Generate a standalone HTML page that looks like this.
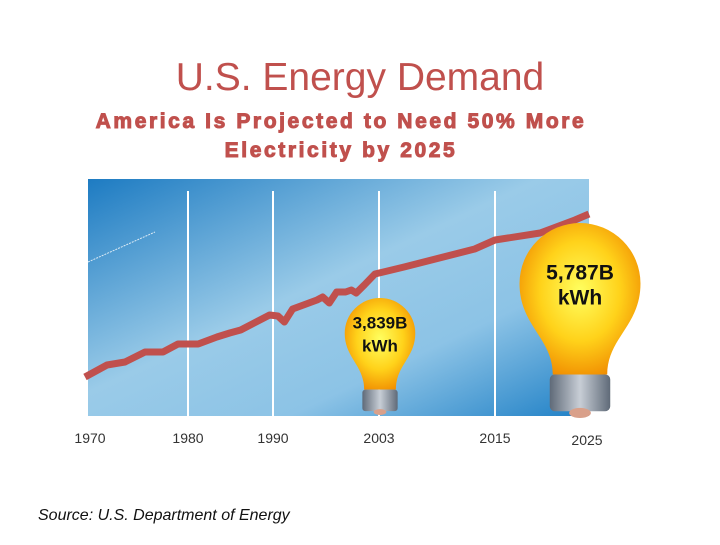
<!DOCTYPE html>
<html><head><meta charset="utf-8"><style>
body{margin:0;width:720px;height:540px;background:#fff;overflow:hidden;font-family:"Liberation Sans",sans-serif}
</style></head><body>
<svg width="720" height="540" viewBox="0 0 720 540" xmlns="http://www.w3.org/2000/svg">
<defs>
<linearGradient id="bg" x1="0" y1="0" x2="1" y2="1">
<stop offset="0" stop-color="#1d7bc2"/><stop offset="0.45" stop-color="#9acbe8"/><stop offset="0.7" stop-color="#8cc3e6"/><stop offset="1" stop-color="#1f80c6"/></linearGradient>
<radialGradient id="glass" cx="0.5" cy="0.45" r="0.6"><stop offset="0" stop-color="#ffff60"/><stop offset="0.55" stop-color="#ffd21a"/><stop offset="1" stop-color="#f08a00"/></radialGradient>
<linearGradient id="base" x1="0" x2="1"><stop offset="0" stop-color="#5f6a78"/><stop offset="0.5" stop-color="#c8ced6"/><stop offset="1" stop-color="#5f6a78"/></linearGradient>
</defs>
<text x="360" y="90" text-anchor="middle" font-size="39" fill="#c0504d" font-family="'Liberation Sans',sans-serif">U.S. Energy Demand</text>
<g font-size="21" font-weight="bold" fill="#c0504d" stroke="#c0504d" stroke-width="1" letter-spacing="2.6" text-anchor="middle">
<text x="341" y="128">America Is Projected to Need 50% More</text>
<text x="341" y="157">Electricity by 2025</text>
</g>
<rect x="88" y="179" width="501" height="237" fill="url(#bg)"/>
<line x1="88" y1="262" x2="155" y2="232" stroke="#fff" stroke-width="1" stroke-dasharray="2,1" opacity="0.8"/>
<g id="grid"></g>
<g id="xlabels" font-size="14" fill="#333" text-anchor="middle"></g>
<polyline id="series" fill="none" stroke="#c0504d" stroke-width="7" stroke-linejoin="round"/>
<g id="bulbs"></g>
<text x="38" y="520" font-size="16" font-style="italic" fill="#111">Source:  U.S. Department of Energy</text>
</svg>
<script>
const tickYears=[1970,1980,1990,2003,2015,2025];
const tickLabels=["1970","1980","1990","2003","2015","2025"];
const years=[1969.7,1971.9,1973.7,1975.7,1977.5,1979,1981.2,1983.4,1984.9,1986.2,1989.6,1990.6,1991.4,1992.4,1995.4,1996.1,1996.9,1997.8,1998.9,1999.6,2000.2,2001.2,2002.5,2005.6,2012.9,2015,2019.8,2023.5,2025];
const demand=[975,1330,1418,1713,1713,1950,1950,2156,2274,2363,2806,2776,2599,2983,3248,3337,3160,3484,3484,3543,3455,3691,4016,4222,4754,5019,5226,5610,5787];
const bulbYears=[2003,2025];
const bulbLabels=["3,839B","5,787B"];
const tickPx=[88,188,273,379,495,589];
function xs(y){for(let i=0;i<tickYears.length-1;i++){if(y<=tickYears[i+1]||i==tickYears.length-2){return tickPx[i]+(y-tickYears[i])*(tickPx[i+1]-tickPx[i])/(tickYears[i+1]-tickYears[i]);}}}
function ys(v){return 214+(5787-v)*66/1948;}
const NS="http://www.w3.org/2000/svg";
const grid=document.getElementById('grid'),xl=document.getElementById('xlabels');
tickYears.forEach((t,i)=>{
 const x=xs(t);
 if(i>0&&i<tickYears.length-1){const l=document.createElementNS(NS,'line');
 l.setAttribute('x1',x);l.setAttribute('x2',x);l.setAttribute('y1',191);l.setAttribute('y2',416);
 l.setAttribute('stroke','#fff');l.setAttribute('stroke-width','2');
 
 
 grid.appendChild(l);}
 const tx=document.createElementNS(NS,'text');
 tx.setAttribute('x',x+(i==0?2:i==5?-2:0));tx.setAttribute('y',i==5?445:443);tx.textContent=tickLabels[i];
 
 
 xl.appendChild(tx);
});
document.getElementById('series').setAttribute('points',years.map((y,i)=>xs(y).toFixed(1)+','+ys(demand[i]).toFixed(1)).join(' '));
const bulbs=document.getElementById('bulbs');
const sizes=[{cx:380,top:298,s:0.98,base:415},{cx:580,top:223,s:1.68,base:418}];
bulbYears.forEach((yr,i)=>{
 const g=document.createElementNS(NS,'g');
 
 
 const c=xs(yr)+(i==0?1:-9),sc=sizes[i].s,top=sizes[i].top;
 const r=36*sc, cy=top+r, neckY=sizes[i].base-36*sc*0.72;
 const fs=i==0?17:21;
 const y1=i==0?cy-5:cy-4, y2=i==0?cy+18:cy+21;
 g.innerHTML=`<path d="M${c-r},${cy} A${r},${r} 0 0 1 ${c+r},${cy} C${c+r},${cy+r*0.7} ${c+r*0.45},${cy+r*0.9} ${c+r*0.45},${neckY} L${c-r*0.45},${neckY} C${c-r*0.45},${cy+r*0.9} ${c-r},${cy+r*0.7} ${c-r},${cy} Z" fill="url(#glass)"/>
 <rect x="${c-r*0.5}" y="${neckY}" width="${r}" height="${sizes[i].base-neckY-4*sc}" rx="${3*sc}" fill="url(#base)"/>
 <ellipse cx="${c}" cy="${sizes[i].base-3*sc}" rx="${r*0.18}" ry="${3*sc}" fill="#d9a08a"/>
 <text x="${c}" y="${y1}" text-anchor="middle" font-size="${fs}" font-weight="bold" fill="#111">${bulbLabels[i]}</text>
 <text x="${c}" y="${y2}" text-anchor="middle" font-size="${fs}" font-weight="bold" fill="#111">kWh</text>`;
 bulbs.appendChild(g);
});
</script>
</body></html>
